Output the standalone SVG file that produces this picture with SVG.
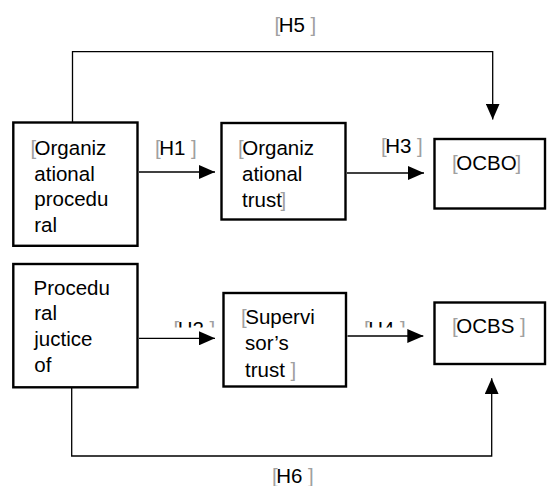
<svg xmlns="http://www.w3.org/2000/svg" width="551" height="486" viewBox="0 0 551 486">
<style>
.box{fill:#fff;stroke:#000;stroke-width:2.4}
.t{font-family:"Liberation Sans",Arial,sans-serif;font-size:20.5px;fill:#000}
.b{fill:#a0a0a0}
.c{fill:none;stroke:#000;stroke-width:1.3}
</style>
<defs>
<marker id="ah" markerUnits="userSpaceOnUse" markerWidth="16" markerHeight="14" refX="16" refY="7" orient="auto">
<path d="M0,0 L16,7 L0,14 z" fill="#000"/>
</marker>
<clipPath id="clipH"><rect x="0" y="300" width="551" height="27.5"/></clipPath>
</defs>
<g id="connectors">
<path class="c" d="M72.5,122 V51.7 H492.7 V119.5" marker-end="url(#ah)"/>
<line class="c" x1="139" y1="172" x2="215" y2="172" marker-end="url(#ah)"/>
<line class="c" x1="347" y1="173" x2="424" y2="173" marker-end="url(#ah)"/>
<line class="c" x1="139" y1="338.3" x2="215" y2="338.3" marker-end="url(#ah)"/>
<line class="c" x1="347.5" y1="336" x2="423.3" y2="336" marker-end="url(#ah)"/>
<path class="c" d="M71.7,388 V456 H491.7 V378.3" marker-end="url(#ah)"/>
<text class="t" x="274.5" y="31.7"><tspan class="b">[</tspan><tspan dx="-1.5">H5 </tspan><tspan class="b">]</tspan></text>
<text class="t" x="155" y="155"><tspan class="b">[</tspan><tspan dx="-1.5">H1 </tspan><tspan class="b">]</tspan></text>
<text class="t" x="381" y="153"><tspan class="b">[</tspan><tspan dx="-1.5">H3 </tspan><tspan class="b">]</tspan></text>
<g clip-path="url(#clipH)">
<text class="t" x="173.5" y="335.5"><tspan class="b">[</tspan><tspan dx="-1.5">H2 </tspan><tspan class="b">]</tspan></text>
<text class="t" x="364" y="335.5"><tspan class="b">[</tspan><tspan dx="-1.5">H4 </tspan><tspan class="b">]</tspan></text>
</g>
<text class="t" x="272" y="483.3"><tspan class="b">[</tspan><tspan dx="-1.5">H6 </tspan><tspan class="b">]</tspan></text>
</g>
<g id="org-procedural">
<rect class="box" x="13.3" y="122.5" width="124.2" height="123.3"/>
<text class="t"><tspan x="30.4" y="155"><tspan class="b">[</tspan><tspan dx="-1.5">Organiz</tspan></tspan><tspan x="34.3" y="180.5">ational</tspan><tspan x="34.3" y="206">procedu</tspan><tspan x="34.3" y="232">ral</tspan></text>
</g>
<g id="org-trust">
<rect class="box" x="221.5" y="123" width="124" height="96.5"/>
<text class="t"><tspan x="238" y="154.5"><tspan class="b">[</tspan><tspan dx="-1.5">Organiz</tspan></tspan><tspan x="242" y="180.5">ational</tspan><tspan x="242" y="206.5">trust<tspan class="b" dx="-1.5">]</tspan></tspan></text>
</g>
<g id="ocbo">
<rect class="box" x="434.5" y="139" width="110.5" height="69.5"/>
<text class="t" x="452" y="170"><tspan class="b">[</tspan><tspan dx="-1.5">OCBO</tspan><tspan class="b" dx="-1">]</tspan></text>
</g>
<g id="procedural-justice">
<rect class="box" x="13.3" y="264" width="124.2" height="123.3"/>
<text class="t"><tspan x="33.5" y="294.5">Procedu</tspan><tspan x="34.3" y="320.3">ral</tspan><tspan x="34.3" y="346">juctice</tspan><tspan x="34.3" y="372">of</tspan></text>
</g>
<g id="supervisor-trust">
<rect class="box" x="223.5" y="293" width="122.5" height="93.5"/>
<text class="t"><tspan x="241" y="323.5"><tspan class="b">[</tspan><tspan dx="-1.5">Supervi</tspan></tspan><tspan x="245" y="350">sor’s</tspan><tspan x="245" y="376.5">trust <tspan class="b">]</tspan></tspan></text>
</g>
<g id="ocbs">
<rect class="box" x="434.5" y="302.5" width="110.5" height="61.5"/>
<text class="t" x="452" y="333"><tspan class="b">[</tspan><tspan dx="-1.5">OCBS </tspan><tspan class="b">]</tspan></text>
</g>
</svg>
